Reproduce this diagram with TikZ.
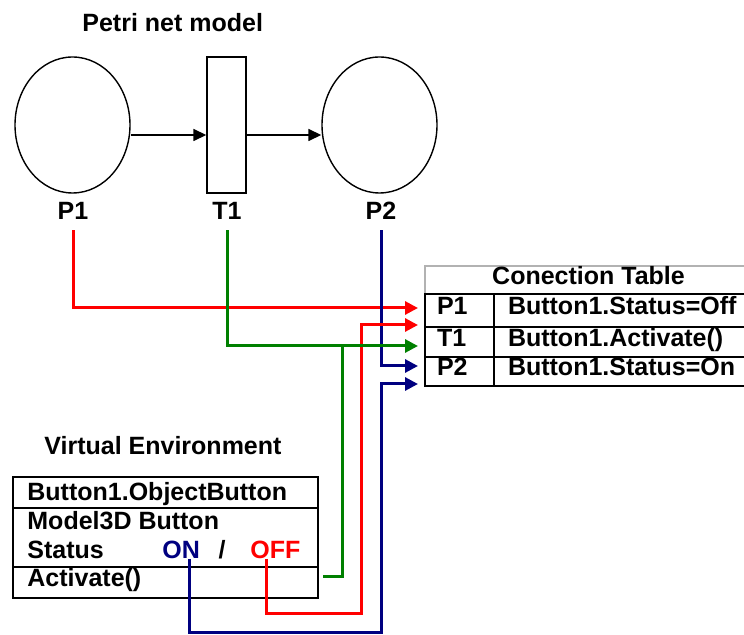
\documentclass[tikz,border=0pt]{standalone}
\usepackage[svgnames]{xcolor}
\usepackage{fontspec}
\setmainfont{Liberation Sans}
\usetikzlibrary{arrows.meta,shapes.geometric}

\begin{document}
\begin{tikzpicture}[x=0.5pt,y=-0.5pt, font=\fontsize{12.5}{15}\selectfont\bfseries,
        >={Triangle[length=6.5pt,width=6.5pt]}]
      \tikzstyle{word} = [inner sep=0pt]
      \tikzstyle{place} = [draw,ellipse,line width=0.7pt,minimum width=57.5pt,minimum height=68pt,inner sep=0pt]
      \tikzstyle{trans} = [draw,rectangle,line width=0.7pt,minimum width=19.5pt,minimum height=68pt,inner sep=0pt]
      \tikzstyle{arc} = [->,line width=0.8pt,>={Triangle[length=6.5pt,width=6pt]}]
      \tikzstyle{cell} = [draw,line width=0.8pt,outer sep=0pt,anchor=north west,align=left,inner ysep=0pt,text height=8.5pt,text depth=4pt]
      \tikzstyle{keycell} = [cell,inner xsep=6pt,text width=22.5pt]
      \tikzstyle{valcell} = [cell,inner xsep=7pt,text width=115pt]
      \tikzstyle{vebox} = [draw,line width=0.8pt,outer sep=0pt,anchor=north west,minimum width=152.5pt,inner sep=0pt]
      \tikzstyle{wire} = [line width=1.5pt]
      \tikzstyle{feed} = [wire,->]
      \useasboundingbox (0,0) rectangle (744,635);
      \clip (0,0) rectangle (744,635);

      \node (title) [word,anchor=base west] at (82,32) {Petri net model};
      \node (P1) [place] at (72.5,125) {};
      \node (T1) [trans] at (226.5,125) {};
      \node (P2) [place] at (379.5,125) {};
      \draw[arc] ([yshift=-5pt]P1.east) -- ([yshift=-5pt]T1.west);
      \draw[arc] ([yshift=-5pt]T1.east) -- ([yshift=-5pt]P2.west);
      \node (lP1) [word,anchor=base] at (73,220) {P1};
      \node (lT1) [word,anchor=base] at (227,220) {T1};
      \node (lP2) [word,anchor=base] at (381,220) {P2};

      \node (hdr) [cell,draw=black!30,minimum width=163.5pt,minimum height=14pt] at (425,266) {Conection Table};
      \node (kP1) [keycell,minimum height=16.5pt] at (425,294) {P1};
      \node (vP1) [valcell,minimum height=16.5pt] at (494,294) {Button1.Status=Off};
      \node (kT1) [keycell,minimum height=15pt] at (425,327) {T1};
      \node (vT1) [valcell,minimum height=15pt] at (494,327) {Button1.Activate()};
      \node (kP2) [keycell,minimum height=14.5pt] at (425,357) {P2};
      \node (vP2) [valcell,minimum height=14.5pt] at (494,357) {Button1.Status=On};

      \node (veTitle) [word,anchor=base west] at (44,455) {Virtual Environment};
      \node (veRow1) [vebox,minimum height=15.5pt] at (13,477) {};
      \node (veRow2) [vebox,minimum height=29.5pt] at (13,508) {};
      \node (veRow3) [vebox,minimum height=15.5pt] at (13,567) {};
      \node (vObj) [word,anchor=base west] at (27,501) {Button1.ObjectButton};
      \node (vModel) [word,anchor=base west] at (27,530) {Model3D Button};
      \node (vStatus) [word,anchor=base west] at (27,559) {Status};
      \node (ON) [word,anchor=base west,text=Navy] at (162,559) {ON};
      \node (slash) [word,anchor=base] at (222,559) {/};
      \node (OFF) [word,anchor=base west,text=Red] at (250,559) {OFF};
      \node (vAct) [word,anchor=base west] at (27,587) {Activate()};

      \coordinate (inP1) at (418,308);
      \coordinate (inOff) at (418,325);
      \coordinate (inT1) at (418,346);
      \coordinate (inP2) at (418,366);
      \coordinate (inOn) at (418,384);
      \coordinate (bendOff) at (361,613);
      \coordinate (bendOn) at (381,632);
      \coordinate (jT1) at (342,346);
      \draw[feed,Red] ([yshift=-5pt]lP1.south) |- (inP1);
      \draw[feed,Navy] ([yshift=-5pt]lP2.south) |- (inP2);
      \draw[feed,Red] ([xshift=-4.5pt]OFF.base) |- (bendOff) |- (inOff);
      \draw[feed,Navy] ([xshift=4pt]ON.base) |- (bendOn) |- (inOn);
      \draw[feed,Green] ([yshift=-5pt]lT1.south) |- (inT1);
      \draw[wire,Green] ([shift={(2.5pt,3pt)}]veRow3.east) -| (jT1);
\end{tikzpicture}
\end{document}
